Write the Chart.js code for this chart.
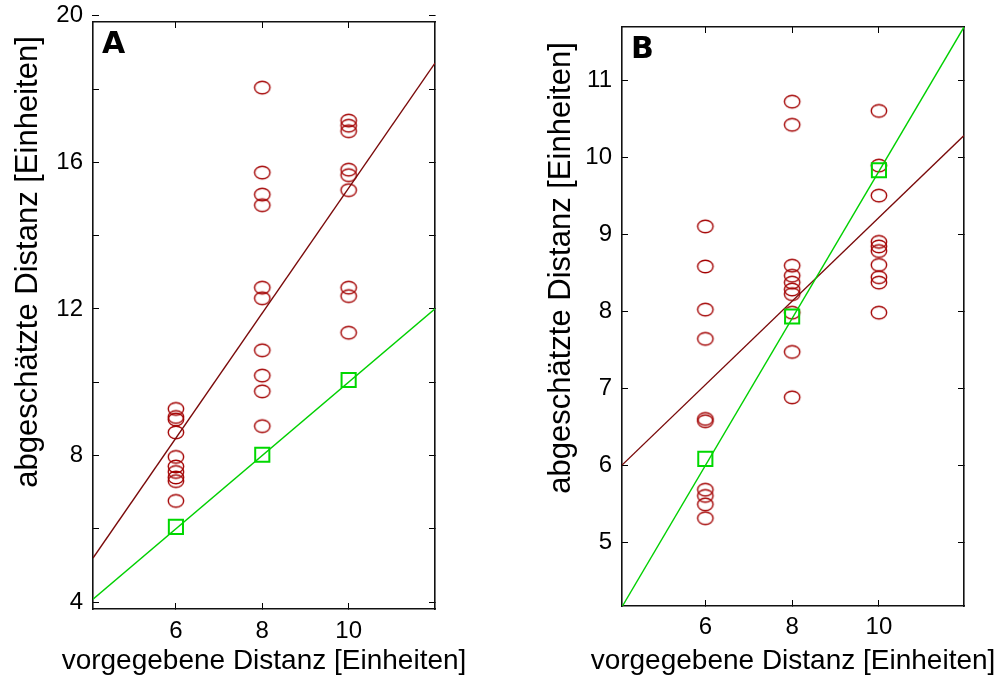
<!DOCTYPE html>
<html><head><meta charset="utf-8">
<script src="https://cdn.jsdelivr.net/npm/chart.js@4/dist/chart.umd.min.js"></script>
<style>
html,body{margin:0;padding:0;background:#fff;}
body{width:997px;height:680px;position:relative;overflow:hidden;}
#wa{position:absolute;left:0;top:0;width:470px;height:680px;}
#wb{position:absolute;left:500px;top:0;width:497px;height:680px;}
</style></head><body>
<div id="wa"><canvas id="ca"></canvas></div>
<div id="wb"><canvas id="cb"></canvas></div>
<script>
// ---- data ----
const givenDistance = [6, 8, 10];
const xTickValues = [6, 8, 10];
const panelNames = ['A', 'B'];
const xTitle = 'vorgegebene Distanz [Einheiten]';
const yTitle = 'abgeschätzte Distanz [Einheiten]';

// Panel A
const estA_6 = [9.27, 9.05, 8.98, 8.63, 7.96, 7.70, 7.55, 7.40, 7.30, 6.76];
const estA_8 = [18.04, 15.72, 15.12, 14.83, 12.58, 12.29, 10.87, 10.18, 9.75, 8.80];
const estA_10 = [17.14, 17.00, 16.85, 15.80, 15.65, 15.24, 12.58, 12.35, 11.35];
const meanA = [6.05, 8.02, 10.06];
const lineXA = [4.08, 12];
const fitA = [5.20, 18.71];
const idealA = [4.08, 12];
const yTickMarksA = [4, 6, 8, 10, 12, 14, 16, 18, 20];
const yTickLabelsA = [4, 8, 12, 16, 20];

// Panel B
const estB_6 = [9.10, 8.58, 8.02, 7.64, 6.60, 6.57, 5.68, 5.60, 5.49, 5.31];
const estB_8 = [10.72, 10.42, 8.59, 8.46, 8.37, 8.28, 8.22, 7.98, 7.47, 6.88];
const estB_10 = [10.60, 9.89, 9.50, 8.90, 8.84, 8.78, 8.60, 8.44, 8.37, 7.98];
const meanB = [6.08, 7.93, 9.83];
const lineXB = [4.08, 11.96];
const fitB = [6.00, 10.28];
const idealB = [4.16, 11.69];
const yTickMarksB = [5, 6, 7, 8, 9, 10, 11];
const yTickLabelsB = [5, 6, 7, 8, 9, 10, 11];

// ---- helpers ----
const FONT = "'Liberation Sans', Arial, sans-serif";
function ellipseMarker(color) {
  const c = document.createElement('canvas');
  c.width = 20; c.height = 17;
  const g = c.getContext('2d');
  g.strokeStyle = color; g.lineWidth = 1.4;
  g.beginPath(); g.ellipse(10, 8.5, 7.7, 6.3, 0, 0, Math.PI * 2); g.stroke();
  return c;
}
const circ = ellipseMarker('#a30000');

function pts(groups) {
  const out = [];
  groups.forEach((vals, i) => vals.forEach(v => out.push({x: givenDistance[i], y: v})));
  return out;
}
function linePts(xs, ys) { return xs.map((x, i) => ({x, y: ys[i]})); }

const panelLabel = {
  id: 'panelLabel',
  afterDraw(chart, args, opts) {
    const {ctx, chartArea} = chart;
    ctx.save();
    ctx.font = 'bold 30px "DejaVu Sans"';
    ctx.fillStyle = '#000';
    ctx.textBaseline = 'alphabetic';
    ctx.fillText(opts.text, chartArea.left + opts.dx, chartArea.top + opts.dy);
    ctx.restore();
  }
};

const axisTitles = {
  id: 'axisTitles',
  afterDraw(chart, args, o) {
    const {ctx, chartArea: ca} = chart;
    ctx.save();
    ctx.fillStyle = '#000'; ctx.textAlign = 'center'; ctx.textBaseline = 'middle';
    ctx.font = o.xSize + 'px ' + FONT;
    ctx.fillText(o.x, (ca.left + ca.right) / 2, o.xY);
    ctx.translate(o.yX, o.yY); ctx.rotate(-Math.PI / 2);
    ctx.font = o.ySize + 'px ' + FONT;
    ctx.fillText(o.y, 0, 0);
    ctx.restore();
  }
};

function makeChart(id, p) {
  const gridOpts = {drawOnChartArea: false, drawTicks: true, tickLength: -6, color: '#000', lineWidth: 1};
  const borderOpts = {display: true, color: '#111', width: 1.6};
  const setTicks = vals => s => { s.ticks = vals.map(v => ({value: v})); };
  return new Chart(document.getElementById(id), {
    type: 'scatter',
    data: {
      datasets: [
        {label: 'mean', data: linePts(givenDistance, p.mean), pointStyle: 'rect', pointRadius: 10,
         borderColor: '#00d800', backgroundColor: 'rgba(0,0,0,0)', borderWidth: 2, showLine: false},
        {label: 'ideal', type: 'line', data: linePts(p.lineX, p.ideal), borderColor: '#00d000',
         borderWidth: 1.4, pointRadius: 0, fill: false, tension: 0},
        {label: 'fit', type: 'line', data: linePts(p.lineX, p.fit), borderColor: '#7a0a0a',
         borderWidth: 1.4, pointRadius: 0, fill: false, tension: 0},
        {label: 'est', data: pts(p.est), pointStyle: circ, pointRadius: 8, showLine: false}
      ]
    },
    plugins: [panelLabel, axisTitles],
    options: {
      responsive: true, maintainAspectRatio: false, animation: false, devicePixelRatio: 1,
      layout: {padding: p.pad},
      plugins: {legend: {display: false}, tooltip: {enabled: false},
                panelLabel: {text: p.name, dx: 9, dy: 31},
                axisTitles: {x: xTitle, y: yTitle, xSize: 28, ySize: 31, xY: 661, yX: p.yTitleX, yY: p.yTitleY}},
      scales: {
        x: {type: 'linear', position: 'bottom', min: p.xmin, max: p.xmax,
            afterBuildTicks: setTicks(xTickValues),
            ticks: {font: {family: FONT, size: 24}, color: '#000', padding: p.xLabelPad, maxRotation: 0,
                    callback: v => String(v)},
            grid: gridOpts, border: borderOpts,
            afterFit: s => { s.height = p.xH; s.paddingLeft = 0; s.paddingRight = 0; }},
        x2: {type: 'linear', position: 'top', min: p.xmin, max: p.xmax,
            afterBuildTicks: setTicks(xTickValues),
            ticks: {display: false}, grid: gridOpts, border: borderOpts,
            afterFit: s => { s.height = 0; s.paddingLeft = 0; s.paddingRight = 0; }},
        y: {type: 'linear', position: 'left', min: p.ymin, max: p.ymax,
            afterBuildTicks: setTicks(p.yMarks),
            ticks: {font: {family: FONT, size: 24}, color: '#000', padding: 16,
                    callback: v => p.yLabels.includes(v) ? String(v) : ''},
            grid: gridOpts, border: borderOpts,
            afterFit: s => { s.width = p.yW; s.paddingTop = 0; s.paddingBottom = 0; }},
        y2: {type: 'linear', position: 'right', min: p.ymin, max: p.ymax,
            afterBuildTicks: setTicks(p.yMarks),
            ticks: {display: false}, grid: gridOpts, border: borderOpts,
            afterFit: s => { s.width = 0; s.paddingTop = 0; s.paddingBottom = 0; }}
      }
    }
  });
}

makeChart('ca', {
  name: panelNames[0], est: [estA_6, estA_8, estA_10], mean: meanA,
  lineX: lineXA, fit: fitA, ideal: idealA, yMarks: yTickMarksA, yLabels: yTickLabelsA,
  xmin: 4.08, xmax: 12, ymin: 3.81, ymax: 19.83,
  pad: {top: 22, right: 35, bottom: 0, left: 0},
  xH: 71, yW: 93, xLabelPad: 14, yTitleX: 28, yTitleY: 262
});
makeChart('cb', {
  name: panelNames[1], est: [estB_6, estB_8, estB_10], mean: meanB,
  lineX: lineXB, fit: fitB, ideal: idealB, yMarks: yTickMarksB, yLabels: yTickLabelsB,
  xmin: 4.08, xmax: 11.96, ymin: 4.17, ymax: 11.69,
  pad: {top: 27, right: 33, bottom: 0, left: 0},
  xH: 74, yW: 122, xLabelPad: 13, yTitleX: 61, yTitleY: 268
});
</script>
</body></html>
